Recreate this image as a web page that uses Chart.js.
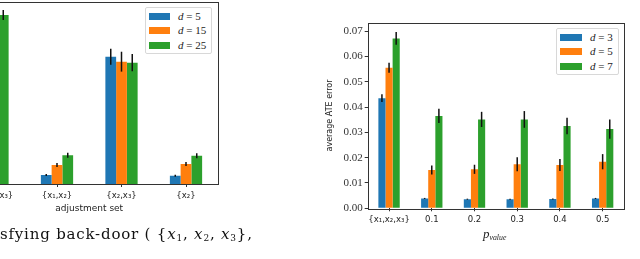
<!DOCTYPE html>
<html>
<head>
<meta charset="utf-8">
<script src="https://cdn.jsdelivr.net/npm/chart.js@4.4.0/dist/chart.umd.min.js"></script>
<style>
  body { margin: 0; width: 640px; height: 259px; overflow: hidden; background: #fff; position: relative; }
  canvas { position: absolute; top: 0; }
  #leftChart { left: -60px; }
  #rightChart { left: 320px; }
  .legend { position: absolute; box-sizing: border-box; background: #fff; border: 1px solid #d8d8d8; border-radius: 2px; }
  .legend .patch { position: absolute; height: 7px; }
  .legend .txt { position: absolute; font: 11px "Liberation Serif", serif; color: #222; line-height: 11px; white-space: nowrap; }
  .math { position: absolute; font-family: "Liberation Serif", serif; color: #222; white-space: nowrap; line-height: 1; }
  sub { font-size: 60%; vertical-align: -0.25em; }
</style>
</head>
<body>
<canvas id="leftChart" width="290" height="259"></canvas>
<canvas id="rightChart" width="320" height="259"></canvas>
<div class="legend" id="leftLegend" style="left:145px;top:7px;width:67px;height:47px"></div>
<div class="legend" id="rightLegend" style="left:556px;top:28px;width:63px;height:47px"></div>
<div class="math" style="left:483px;top:227px;font-size:13px"><i>p</i><sub><i>value</i></sub></div>
<div class="math" style="left:0;top:227px;font-size:15px;font-family:'DejaVu Serif',serif;letter-spacing:0.8px;color:#111">sfying back-door ( {<i>x</i><sub>1</sub>, <i>x</i><sub>2</sub>, <i>x</i><sub>3</sub>},</div>

<script>
// left panel: adjustment sets
const leftCats = ["{x\u2081,x\u2082,x\u2083}", "{x\u2081,x\u2082}", "{x\u2082,x\u2083}", "{x\u2082}"];
const leftD = [5, 15, 25];
const leftVals = [
  [0.168, 0.009, 0.128, 0.0083],
  [0.169, 0.019, 0.123, 0.020],
  [0.170, 0.029, 0.122, 0.0283]
];
const leftErr = [
  [0.005, 0.001, 0.008, 0.001],
  [0.005, 0.002, 0.010, 0.002],
  [0.005, 0.0025, 0.0087, 0.0025]
];

// right panel: p_value
const rightCats = ["{x\u2081,x\u2082,x\u2083}", "0.1", "0.2", "0.3", "0.4", "0.5"];
const rightD = [3, 5, 7];
const rightVals = [
  [0.0435, 0.0039, 0.0036, 0.0036, 0.0037, 0.0039],
  [0.0555, 0.0151, 0.0154, 0.0174, 0.0171, 0.0184],
  [0.0671, 0.0365, 0.0351, 0.0351, 0.0325, 0.0313]
];
const rightErr = [
  [0.0015, 0.0002, 0.0002, 0.0002, 0.0002, 0.0002],
  [0.002, 0.0018, 0.0018, 0.0028, 0.0024, 0.003],
  [0.0025, 0.0028, 0.003, 0.0033, 0.0033, 0.0038]
];
const rightTicks = [0, 0.01, 0.02, 0.03, 0.04, 0.05, 0.06, 0.07];

const colors = ["#1f77b4", "#ff7f0e", "#2ca02c"];

const errorBars = {
  id: "errorBars",
  afterDatasetsDraw(chart) {
    const ctx = chart.ctx, y = chart.scales.y;
    ctx.save();
    ctx.strokeStyle = "#111";
    ctx.lineWidth = 1.5;
    chart.data.datasets.forEach((ds, i) => {
      chart.getDatasetMeta(i).data.forEach((bar, j) => {
        const v = ds.data[j], e = ds.errors[j];
        ctx.beginPath();
        ctx.moveTo(bar.x, y.getPixelForValue(v - e));
        ctx.lineTo(bar.x, y.getPixelForValue(v + e));
        ctx.stroke();
      });
    });
    ctx.restore();
  }
};

const frame = {
  id: "frame",
  afterDraw(chart) {
    const ctx = chart.ctx, a = chart.chartArea;
    ctx.save();
    ctx.strokeStyle = "#333";
    ctx.lineWidth = 1;
    ctx.strokeRect(Math.round(a.left) + 0.5, Math.round(a.top) + 0.5,
      Math.round(a.right - a.left), Math.round(a.bottom - a.top));
    ctx.restore();
  }
};

function makeSets(vals, errs, ds) {
  return vals.map((v, i) => ({
    label: "d = " + ds[i],
    data: v,
    errors: errs[i],
    backgroundColor: colors[i],
    categoryPercentage: 0.5,
    barPercentage: 1.0
  }));
}

function makeLegend(id, ds, w) {
  const box = document.getElementById(id);
  ds.forEach((d, i) => {
    const top = 4.5 + i * 14.7;
    box.innerHTML += `<div class="patch" style="left:3px;top:${top}px;width:${w}px;background:${colors[i]}"></div>` +
      `<div class="txt" style="left:${w + 11}px;top:${top - 2}px"><i>d</i> = ${d}</div>`;
  });
}

const sans = "'DejaVu Sans', sans-serif";

new Chart(document.getElementById("leftChart"), {
  type: "bar",
  data: { labels: leftCats, datasets: makeSets(leftVals, leftErr, leftD) },
  options: {
    responsive: false,
    animation: false,
    layout: { padding: { left: 20.25, right: 11.75, top: 2, bottom: 44 } },
    plugins: { legend: { display: false }, tooltip: { enabled: false } },
    scales: {
      x: {
        offset: true,
        grid: { drawOnChartArea: false, drawTicks: true, tickLength: 3, offset: false, color: "#333" },
        border: { display: false },
        ticks: { font: { family: sans, size: 8.5 }, color: "#222", maxRotation: 0, autoSkip: false, padding: 4 },
        title: { display: true, text: "adjustment set", font: { family: sans, size: 9 }, color: "#222", padding: { top: 0, bottom: 1 } },
        afterFit: s => { s.height = 31; }
      },
      y: { display: false, min: 0, max: 0.183 }
    }
  },
  plugins: [errorBars, frame]
});

new Chart(document.getElementById("rightChart"), {
  type: "bar",
  data: { labels: rightCats, datasets: makeSets(rightVals, rightErr, rightD) },
  options: {
    responsive: false,
    animation: false,
    layout: { padding: { left: 0, right: 16, top: 22.7, bottom: 30.7 } },
    plugins: { legend: { display: false }, tooltip: { enabled: false } },
    scales: {
      x: {
        offset: true,
        grid: { drawOnChartArea: false, drawTicks: true, tickLength: 3, offset: false, color: "#333" },
        border: { display: false },
        ticks: { font: { family: sans, size: 8.5 }, color: "#222", maxRotation: 0, autoSkip: false, padding: 3 },
        afterFit: s => { s.height = 20; }
      },
      y: {
        min: 0,
        max: 0.0733,
        afterBuildTicks: s => { s.ticks = rightTicks.map(v => ({ value: v })); },
        grid: { drawOnChartArea: false, drawTicks: true, tickLength: 3, color: "#333" },
        border: { display: false },
        ticks: { font: { family: "'Liberation Serif', serif", size: 11 }, color: "#333", padding: 2, callback: v => v.toFixed(2) },
        title: { display: true, text: "average ATE error", font: { family: sans, size: 8 }, color: "#222", padding: { top: 5 } },
        afterFit: s => { s.width = 47.7; }
      }
    }
  },
  plugins: [errorBars, frame]
});

makeLegend("leftLegend", leftD, 21);
makeLegend("rightLegend", rightD, 22);
</script>
</body>
</html>
